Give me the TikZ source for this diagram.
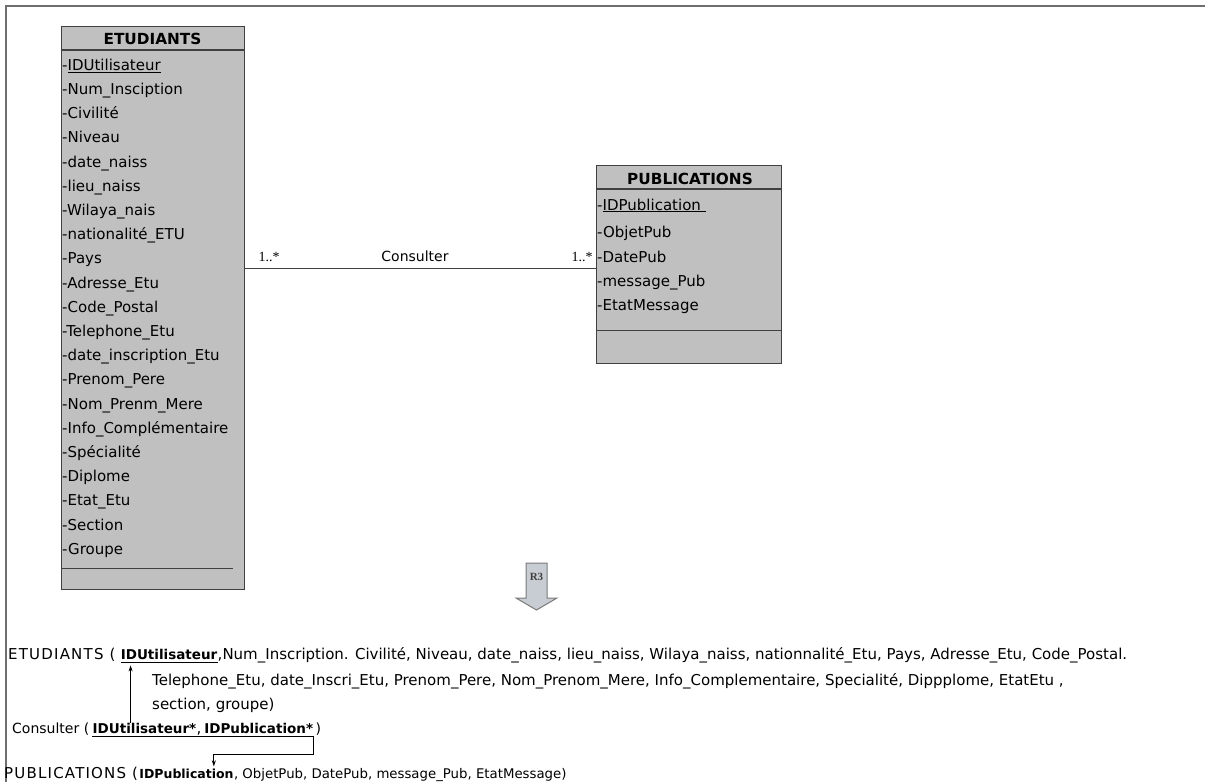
\documentclass[tikz,border=0pt]{standalone}
\usepackage{fontspec}
\setmainfont{DejaVu Sans}
\newfontfamily\serifft{Liberation Serif}
\newfontfamily\spacedft[LetterSpace=8]{DejaVu Sans}
\usetikzlibrary{positioning,arrows.meta}

\definecolor{boxfill}{HTML}{C0C0C0}
\definecolor{boxedge}{HTML}{404040}
\definecolor{framegray}{HTML}{6E6E6E}
\definecolor{arrowfill}{HTML}{C8CDD3}
\definecolor{arrowedge}{HTML}{7A7A7A}

\tikzset{
  classbox/.style={draw=boxedge, line width=1.3pt, fill=boxfill, rectangle, inner sep=0pt},
  classline/.style={draw=boxedge, line width=1.3pt},
  classname/.style={anchor=base, inner sep=0pt, font=\bfseries\fontsize{15.3}{17}\selectfont},
  attr/.style={anchor=base west, inner sep=0pt, font=\fontsize{15}{17}\selectfont},
  mult/.style={anchor=base, inner sep=0pt, font=\serifft\fontsize{14}{15}\selectfont},
  rel/.style={anchor=base west, inner sep=0pt, font=\fontsize{15}{17}\selectfont},
  relhead/.style={rel, font=\spacedft\fontsize{15}{17}\selectfont},
  relkey/.style={rel, font=\bfseries\fontsize{13.5}{15}\selectfont},
  keyarrow/.style={line width=0.8pt, -{Stealth[length=6pt,width=4pt]}},
}

\begin{document}
\begin{tikzpicture}[x=1pt,y=-1pt]
  \useasboundingbox (0,0) rectangle (1205,782);
  % frame
  \draw[framegray, line width=1.6pt] (1205,6) -- (6,6) -- (6,782);

  % class ETUDIANTS
  \node[classbox, minimum width=183pt, minimum height=563pt, anchor=north west] (etud) at (61,26) {};
  \draw[classline] ([yshift=-24pt]etud.north west) -- ([yshift=-24pt]etud.north east);
  \draw[classline] ([yshift=22pt]etud.south west) -- ([xshift=-12pt,yshift=22pt]etud.south east);
  \node[classname] (etudname) at (152.5,44) {ETUDIANTS};
  \node[attr] (etud1) at (62,70.2) {-\underline{IDUtilisateur}};
  \foreach \a [count=\i from 2] in {Num\_Insciption, Civilité, Niveau, date\_naiss, lieu\_naiss,
      Wilaya\_nais, nationalité\_ETU, Pays, Adresse\_Etu, Code\_Postal, Telephone\_Etu,
      date\_inscription\_Etu, Prenom\_Pere, Nom\_Prenm\_Mere, Info\_Complémentaire,
      Spécialité, Diplome, Etat\_Etu, Section, Groupe}
    \node[attr] (etud\i) at (62,{46+24.2*\i}) {-\a};

  % class PUBLICATIONS
  \node[classbox, minimum width=185pt, minimum height=198pt, anchor=north west] (pub) at (596,165) {};
  \draw[classline] ([yshift=-24pt]pub.north west) -- ([yshift=-24pt]pub.north east);
  \draw[classline] ([yshift=34pt]pub.south west) -- ([yshift=34pt]pub.south east);
  \node[classname] (pubname) at (690,184) {PUBLICATIONS};
  \node[attr] (pub1) at (597,210) {-\underline{IDPublication\ }};
  \foreach \a/\y [count=\i from 2] in {ObjetPub/237, DatePub/262, message\_Pub/286, EtatMessage/310}
    \node[attr] (pub\i) at (597,\y) {-\a};

  % association
  \draw[boxedge, line width=1.4pt] ([yshift=-4pt]pub.west -| etud.east) -- ([yshift=-4pt]pub.west);
  \node[mult] (multetud) at (269,261) {1..*};
  \node[mult] (multpub) at (582,261) {1..*};
  \node[attr, anchor=base, font=\fontsize{14}{16}\selectfont] (assoc) at (415,261) {Consulter};

  % rule R3
  \draw[fill=arrowfill, draw=arrowedge, line width=1pt] (526,563) -- (547,563) -- (547,598) -- (557,598)
    -- (536.5,610) -- (516,598) -- (526,598) -- cycle;
  \node[font=\serifft\bfseries\fontsize{11}{11}\selectfont, text=black!75] (rule) at (536.5,577) {R3};

  % relational schema
  \node[relhead] (etudrel) at (8,659) {ETUDIANTS (};
  \node[relkey] (etudkey) at ([xshift=5pt]etudrel.base east) {IDUtilisateur};
  \node[rel] (etudrest) at (etudkey.base east) {,Num\_Inscription. Civilité, Niveau, date\_naiss, lieu\_naiss, Wilaya\_naiss, nationnalité\_Etu, Pays, Adresse\_Etu, Code\_Postal.};
  \draw[line width=0.9pt] ([yshift=-3pt]etudkey.south west) -- ([yshift=-3pt]etudkey.south east);
  \node[rel] (etudrel2) at (152,685) {Telephone\_Etu, date\_Inscri\_Etu, Prenom\_Pere, Nom\_Prenom\_Mere, Info\_Complementaire, Specialité, Dippplome, EtatEtu ,};
  \node[rel] (etudrel3) at (152,709) {section, groupe)};

  \node[rel, font=\fontsize{14}{16}\selectfont] (consrel) at (12,733) {Consulter (};
  \node[relkey] (conskey1) at ([xshift=3pt]consrel.base east) {IDUtilisateur*};
  \node[rel] (conscomma) at (conskey1.base east) {,\,};
  \node[relkey] (conskey2) at (conscomma.base east) {IDPublication*};
  \node[rel, font=\fontsize{14}{16}\selectfont] (consend) at ([xshift=2pt]conskey2.base east) {)};
  \draw[line width=0.9pt] ([yshift=-3pt]conskey1.south west) -- ([yshift=-3pt]conskey2.south east);

  \node[relhead] (pubrel) at (4,778) {PUBLICATIONS (};
  \node[relkey, font=\bfseries\fontsize{12.5}{14}\selectfont] (pubkey) at ([xshift=1pt]pubrel.base east) {IDPublication};
  \node[rel, font=\fontsize{13.3}{15}\selectfont] (pubrest) at (pubkey.base east) {, ObjetPub, DatePub, message\_Pub, EtatMessage)};

  % foreign keys
  \draw[keyarrow] ([xshift=10pt]etudkey.south west |- conskey1.north) -- ([xshift=10pt,yshift=-6pt]etudkey.south west);
  \draw[keyarrow] ([yshift=-3pt]conskey2.south east) -- ++(0,18) -| ([xshift=-20pt,yshift=2pt]pubkey.north east);
\end{tikzpicture}
\end{document}
